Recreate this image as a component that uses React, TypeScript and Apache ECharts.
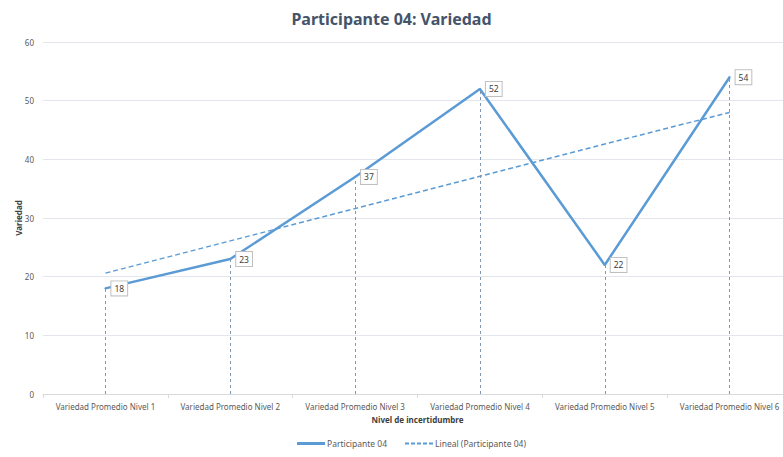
import React, { useEffect, useRef } from "react";
import * as echarts from "echarts";

const categories = [
  "Variedad Promedio Nivel 1",
  "Variedad Promedio Nivel 2",
  "Variedad Promedio Nivel 3",
  "Variedad Promedio Nivel 4",
  "Variedad Promedio Nivel 5",
  "Variedad Promedio Nivel 6",
];
const participantValues = [18, 23, 37, 52, 22, 54];
const trendValues = [20.6, 26.1, 31.6, 37.1, 42.6, 48.0];
const yTicks = { min: 0, max: 60, interval: 10 };

const FONT = "Noto Sans";
const BLUE = "#5B9BD5";

export default function App() {
  const ref = useRef<HTMLDivElement>(null);
  useEffect(() => {
    const chart = echarts.init(ref.current!, null, { renderer: "svg" });
    const dropLines = participantValues.map((v, i) => [
      { coord: [i, 0] },
      { coord: [i, v] },
    ]);
    chart.setOption({
      animation: false,
      textStyle: { fontFamily: FONT },
      title: {
        text: "Participante 04: Variedad",
        left: "center",
        top: 6,
        textStyle: { fontFamily: FONT, fontSize: 16, fontWeight: "bold", color: "#44546A" },
      },
      legend: {
        bottom: 4,
        left: 292,
        itemWidth: 28,
        itemHeight: 8,
        itemGap: 18,
        textStyle: { fontFamily: FONT, fontSize: 8.5, color: "#595959", padding: [0, 0, 0, -3] },
        data: [
          { name: "Participante 04", icon: "path://M0,0H28V3H0Z", itemStyle: { color: BLUE, opacity: 1 } },
          { name: "Lineal (Participante 04)", icon: "path://M0,0H4V2H0ZM6,0H10V2H6ZM12,0H16V2H12ZM18,0H22V2H18ZM24,0H28V2H24Z" },
        ],
      },
      grid: { left: 43, width: 749, top: 42, bottom: 63, outerBoundsMode: "none", containLabel: false },
      xAxis: {
        type: "category",
        data: categories,
        boundaryGap: true,
        name: "Nivel de incertidumbre",
        nameLocation: "middle",
        nameGap: 21,
        nameTextStyle: { fontFamily: FONT, fontSize: 8, fontWeight: "bold", color: "#404040" },
        axisLine: { lineStyle: { color: "#D9D9D9" } },
        axisTick: { show: true, length: 4, lineStyle: { color: "#D9D9D9" } },
        axisLabel: { fontFamily: FONT, fontSize: 8, color: "#595959", margin: 8, interval: 0 },
      },
      yAxis: {
        type: "value",
        min: yTicks.min,
        max: yTicks.max,
        interval: yTicks.interval,
        name: "Variedad",
        nameLocation: "middle",
        nameGap: 21,
        nameMoveOverlap: false,
        nameRotate: 90,
        nameTextStyle: { fontFamily: FONT, fontSize: 8, fontWeight: "bold", color: "#404040" },
        axisLine: { show: false },
        axisTick: { show: false },
        axisLabel: { fontFamily: FONT, fontSize: 8, color: "#595959", margin: 9 },
        splitLine: { lineStyle: { color: "#E3E6EC" } },
      },
      series: [
        {
          name: "Participante 04",
          type: "line",
          data: participantValues,
          symbol: "circle",
          symbolSize: 2,
          showSymbol: true,
          lineStyle: { color: BLUE, width: 2.5 },
          itemStyle: { color: BLUE },
          label: {
            show: true,
            position: "right",
            offset: [3, 5],
            fontFamily: FONT,
            fontSize: 8.5,
            color: "#404040",
            backgroundColor: "#fff",
            borderColor: "#BFBFBF",
            borderWidth: 1,
            padding: [3, 3, 2, 3],
          },
          labelLayout: { hideOverlap: false },
          markLine: {
            silent: true,
            symbol: "none",
            label: { show: false },
            lineStyle: { color: "#8497B0", type: [3, 3], width: 1 },
            data: dropLines,
          },
          z: 3,
        },
        {
          name: "Lineal (Participante 04)",
          type: "line",
          data: trendValues,
          symbol: "none",
          lineStyle: { color: BLUE, width: 1.5, type: [5, 3] },
          itemStyle: { color: BLUE },
          z: 2,
        },
      ],
    });
    return () => chart.dispose();
  }, []);
  return <div ref={ref} style={{ width: 783, height: 457, position: "absolute", left: 0, top: 0 }} />;
}
